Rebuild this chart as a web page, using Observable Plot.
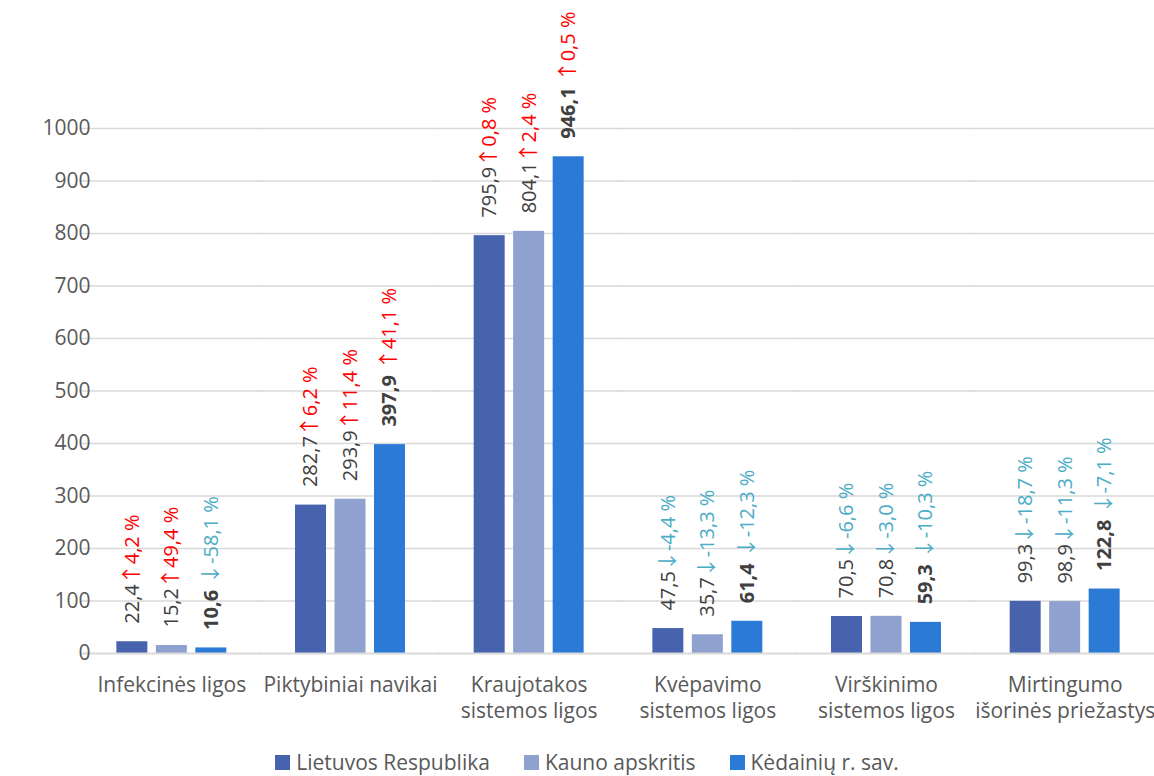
<!DOCTYPE html>
<html>
<head>
<meta charset="utf-8">
<script src="https://cdn.jsdelivr.net/npm/d3@7"></script>
<script src="https://cdn.jsdelivr.net/npm/@observablehq/plot@0.6"></script>
<style>
  html, body { margin: 0; padding: 0; background: #ffffff; }
  body { font-family: "Open Sans", sans-serif; width: 1154px; height: 776px; overflow: hidden; }
  #legend { display: flex; justify-content: center; align-items: center; gap: 34px;
            padding-top: 20px; line-height: 24px; font-size: 21px; color: #595959; padding-left: 20px; }
  .item { display: flex; align-items: center; gap: 6px; white-space: nowrap; }
  .sw { width: 15px; height: 15px; display: inline-block; }
</style>
</head>
<body>
<div id="chart"></div>
<div id="legend"></div>
<script>
// ---- data ----
const categories = ["Infekcinės ligos", "Piktybiniai navikai", "Kraujotakos sistemos ligos",
  "Kvėpavimo sistemos ligos", "Virškinimo sistemos ligos", "Mirtingumo išorinės priežastys"];
const categoryLabels = ["Infekcinės ligos", "Piktybiniai navikai", "Kraujotakos\nsistemos ligos",
  "Kvėpavimo\nsistemos ligos", "Virškinimo\nsistemos ligos", "Mirtingumo\nišorinės priežastys"];
const series = ["Lietuvos Respublika", "Kauno apskritis", "Kėdainių r. sav."];
const seriesColors = ["#4863ae", "#8ea1cf", "#2b7bd6"];
const valuesLR = [22.4, 282.7, 795.9, 47.5, 70.5, 99.3];
const valuesKaunas = [15.2, 293.9, 804.1, 35.7, 70.8, 98.9];
const valuesKedainiai = [10.6, 397.9, 946.1, 61.4, 59.3, 122.8];
const changeLR = [4.2, 6.2, 0.8, -4.4, -6.6, -18.7];
const changeKaunas = [49.4, 11.4, 2.4, -13.3, -3.0, -11.3];
const changeKedainiai = [-58.1, 41.1, 0.5, -12.3, -10.3, -7.1];
const yTicks = [0, 100, 200, 300, 400, 500, 600, 700, 800, 900, 1000];

const allValues = [valuesLR, valuesKaunas, valuesKedainiai];
const allChanges = [changeLR, changeKaunas, changeKedainiai];
const data = [];
categories.forEach((c, i) => series.forEach((s, j) => data.push({
  category: c, series: s, si: j, value: allValues[j][i], change: allChanges[j][i]
})));

const fmt = v => v.toFixed(1).replace(".", ",");
const arrowOf = c => (c >= 0 ? "↑" : "↓");

const labelMark = Plot.text(data, {
  fx: "category", x: "series", y: "value",
  text: d => fmt(d.value) + "|" + d.si + "|" + arrowOf(d.change) + "|" + fmt(d.change) + " %",
  rotate: -90, textAnchor: "start", dy: -18, fontSize: 20, fill: "#404040"
});

const chart = Plot.plot({
  width: 1154, height: 730,
  marginLeft: 82, marginRight: 0, marginTop: 128, marginBottom: 77,
  style: { fontFamily: '"Open Sans", sans-serif', fontSize: "21px", color: "#595959", background: "#ffffff", overflow: "visible" },
  fx: { domain: categories, paddingInner: 0.337, paddingOuter: 0.1685, round: false, label: null },
  x: { domain: series, paddingInner: 0.215, paddingOuter: 0.1075, round: false, axis: null },
  y: { domain: [0, 1000], axis: null },
  color: { domain: series, range: seriesColors },
  marks: [
    Plot.ruleY(yTicks.slice(1), { stroke: "#d9d9d9", strokeWidth: 1.3, insetLeft: -31, insetRight: -31 }),
    Plot.barY(data, { fx: "category", x: "series", y: "value", fill: "series" }),
    Plot.ruleY([0], { stroke: "#d9d9d9", strokeWidth: 2, insetLeft: -31, insetRight: -31 }),
    Plot.axisY({ ticks: yTicks, tickSize: 0, tickPadding: 22, fontSize: 21, fill: "#595959", label: null,
      tickFormat: d => String(d) }),
    Plot.axisFx({ anchor: "bottom", tickSize: 0, tickPadding: 20, fontSize: 21, fill: "#595959", lineHeight: 1.25,
      tickFormat: d => categoryLabels[categories.indexOf(d)], label: null }),
    labelMark
  ]
});
document.getElementById("chart").appendChild(chart);

// split each label into a value part, an arrow and a coloured change part
const NS = "http://www.w3.org/2000/svg";
chart.querySelectorAll("text").forEach(t => {
  if (!t.textContent.includes("|")) return;
  const [v, si, a, p] = t.textContent.split("|");
  const col = a === "↑" ? "#ff0000" : "#4bacc6";
  t.textContent = "";
  const t1 = document.createElementNS(NS, "tspan");
  t1.textContent = v;
  t1.setAttribute("fill", "#404040");
  if (si === "2") t1.setAttribute("font-weight", "bold");
  const t2 = document.createElementNS(NS, "tspan");
  t2.textContent = a;
  t2.setAttribute("fill", col);
  t2.setAttribute("font-family", "Noto Sans CJK JP");
  t2.setAttribute("dx", si === "2" ? "6" : "0");
  const t3 = document.createElementNS(NS, "tspan");
  t3.textContent = p;
  t3.setAttribute("fill", col);
  t.appendChild(t1); t.appendChild(t2); t.appendChild(t3);
});

// legend
const legend = document.getElementById("legend");
series.forEach((s, j) => {
  const it = document.createElement("div");
  it.className = "item";
  const sw = document.createElement("span");
  sw.className = "sw"; sw.style.background = seriesColors[j];
  const tx = document.createElement("span");
  tx.textContent = s;
  it.appendChild(sw); it.appendChild(tx);
  legend.appendChild(it);
});
</script>
</body>
</html>
